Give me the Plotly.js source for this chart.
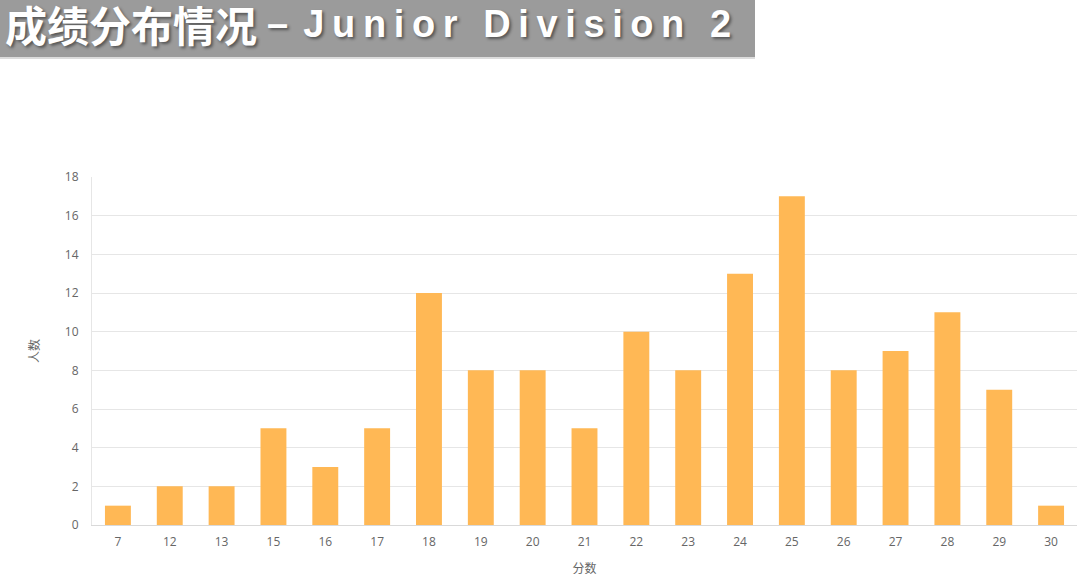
<!DOCTYPE html>
<html><head><meta charset="utf-8">
<script src="https://cdn.plot.ly/plotly-3.0.1.min.js"></script>
<style>html,body{margin:0;padding:0;background:#fff;}#chart{width:1080px;height:583px;}</style>
</head><body><div id="chart"></div>
<script>
const scores = ['7','12','13','15','16','17','18','19','20','21','22','23','24','25','26','27','28','29','30'];
const counts = [1,2,2,5,3,5,12,8,8,5,10,8,13,17,8,9,11,7,1];
const yTicks = [0,2,4,6,8,10,12,14,16,18];
const titleCn = '成绩分布情况';
const titleEn = 'Junior Division 2';

const font = '"Open Sans","Noto Sans CJK SC",sans-serif';
const spacedEn = '\u2013\u2009\u2009' + titleEn.split('').join('\u2009');
const trace = {
  type: 'bar', x: scores, y: counts,
  marker: {color: '#FFB855', line: {width: 0}},
  hoverinfo: 'x+y'
};
const P = 348, W = 985;
const shadow = '2px 2px 3px rgba(0,0,0,0.45)';
const layout = {
  width: 1080, height: 583,
  margin: {l: 92, r: 3, t: 177, b: 58},
  paper_bgcolor: '#fff', plot_bgcolor: '#fff',
  bargap: 0.5,
  showlegend: false,
  font: {family: font, color: '#666', size: 12},
  xaxis: {
    type: 'category', showgrid: false, showline: true, linecolor: '#d9d9d9', linewidth: 1,
    ticks: '', tickfont: {size: 12, color: '#666'}, ticklabelstandoff: 6,
    title: {text: '分数', font: {size: 12, color: '#666', family: '"Noto Sans CJK SC",sans-serif'}, standoff: 15}
  },
  yaxis: {
    range: [0, 18], tickvals: yTicks, showgrid: true, gridcolor: '#e6e6e6', gridwidth: 1,
    zeroline: false, showline: true, linecolor: '#e6e6e6', ticks: '', ticklabelstandoff: 10,
    tickfont: {size: 12, color: '#666'},
    title: {text: '人数', font: {size: 12, color: '#666', family: '"Noto Sans CJK SC",sans-serif'}, standoff: 22}
  },
  shapes: [
    {type: 'rect', xref: 'paper', yref: 'paper', x0: -92/W, x1: 663/W, y0: 1 + 120/P, y1: 1 + 180/P,
     fillcolor: '#9b9b9b', line: {width: 0}, layer: 'below'},
    {type: 'line', xref: 'paper', yref: 'paper', x0: -92/W, x1: 663/W, y0: 1 + 119/P, y1: 1 + 119/P,
     line: {color: '#dcdcdc', width: 2}}
  ],
  annotations: [
    {xref: 'paper', yref: 'paper', x: -89/W, y: 1 + (177-23)/P, xanchor: 'left', yanchor: 'middle',
     text: '<b>' + titleCn + '</b>', showarrow: false,
     font: {size: 42, color: '#ffffff', family: '"Noto Sans CJK SC",sans-serif', shadow: shadow}},
    {xref: 'paper', yref: 'paper', x: (265-92)/W, y: 1 + (177-24)/P, xanchor: 'left', yanchor: 'middle',
     text: '<b>' + spacedEn + '</b>', showarrow: false,
     font: {size: 38, color: '#ffffff', family: '"Liberation Sans",Arial,sans-serif', shadow: shadow}}
  ]
};
Plotly.newPlot('chart', [trace], layout, {displayModeBar: false});
</script></body></html>
